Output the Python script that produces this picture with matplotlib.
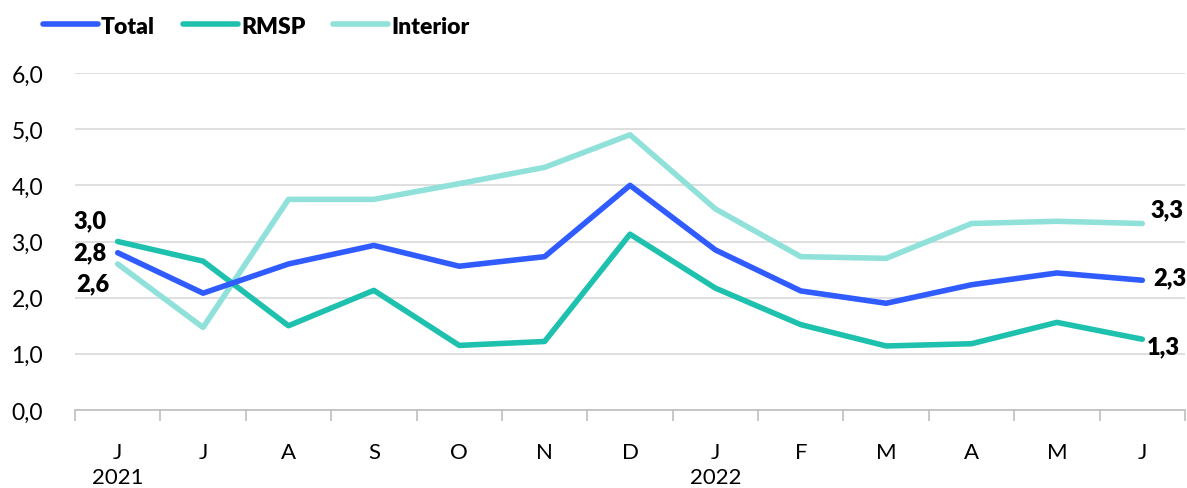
import matplotlib
matplotlib.use("Agg")
from matplotlib import pyplot as plt
from matplotlib.transforms import blended_transform_factory
import numpy as np

plt.rcParams['font.family'] = ['Lato', 'DejaVu Sans']

months = ["J", "J", "A", "S", "O", "N", "D", "J", "F", "M", "A", "M", "J"]
years = {0: "2021", 7: "2022"}

total    = [2.80, 2.08, 2.60, 2.93, 2.56, 2.73, 4.00, 2.85, 2.12, 1.90, 2.23, 2.44, 2.31]
rmsp     = [3.00, 2.65, 1.50, 2.13, 1.15, 1.22, 3.13, 2.17, 1.52, 1.14, 1.18, 1.56, 1.26]
interior = [2.60, 1.47, 3.75, 3.75, 4.03, 4.32, 4.90, 3.58, 2.73, 2.70, 3.32, 3.36, 3.32]

c_total = "#2f5bff"
c_rmsp = "#1dc1ad"
c_int = "#8fe1d9"

fig = plt.figure(figsize=(11.87, 4.89), dpi=100)
ax = fig.add_axes([75/1187, 1-411/489, 1110/1187, (411-74)/489])

x = np.arange(len(months))
l1, = ax.plot(x, total, color=c_total, lw=4, solid_capstyle='round', zorder=4, label="Total")
l2, = ax.plot(x, rmsp, color=c_rmsp, lw=4, solid_capstyle='round', zorder=3, label="RMSP")
l3, = ax.plot(x, interior, color=c_int, lw=4, solid_capstyle='round', zorder=2, label="Interior")

ax.set_xlim(-0.5, len(months) - 0.5)
ax.set_ylim(0, 6)
ax.set_yticks(np.arange(0, 7, 1))
ax.set_yticklabels([("%.1f" % v).replace(".", ",") for v in range(7)])
ax.grid(axis='y', color='#d9d9d9', lw=1.2)
ax.set_axisbelow(True)

for s in ["top", "right", "left"]:
    ax.spines[s].set_visible(False)
ax.spines["bottom"].set_color("#bfbfbf")
ax.spines["bottom"].set_linewidth(1.2)

ax.set_xticks(x)
ax.set_xticklabels(months)
ax.set_xticks(np.arange(-0.5, len(months), 1), minor=True)
ax.tick_params(axis='x', which='major', length=0, pad=23, labelsize=16)
ax.tick_params(axis='x', which='minor', length=8, color='#bfbfbf', width=1.2)
ax.tick_params(axis='y', length=0, pad=23, labelsize=16.5)

trans = blended_transform_factory(ax.transData, ax.transAxes)
for i, y in years.items():
    ax.text(i, -0.2, y, transform=trans, ha='center', va='center', fontsize=16)

def lab(v):
    return ("%.1f" % v).replace(".", ",")

lbl = dict(textcoords='offset points', ha='center', va='center', fontsize=17, fontweight='heavy')
# data labels at the ends
ax.annotate(lab(rmsp[0]), (0, rmsp[0]), xytext=(-20, 15), **lbl)
ax.annotate(lab(total[0]), (0, total[0]), xytext=(-20, 0), **lbl)
ax.annotate(lab(interior[0]), (0, interior[0]), xytext=(-18, -14), **lbl)
n = len(months) - 1
ax.annotate(lab(interior[n]), (n, interior[n]), xytext=(18, 10), **lbl)
ax.annotate(lab(total[n]), (n, total[n]), xytext=(20, 2), **lbl)
ax.annotate(lab(rmsp[n]), (n, rmsp[n]), xytext=(15, -5), **lbl)

leg = fig.legend(handles=[l1, l2, l3], loc='center left', bbox_to_anchor=(22/1187, 1-27/489),
                 ncol=3, frameon=False, handlelength=2.4, handletextpad=0.15,
                 columnspacing=1.2, prop={'size': 16.5, 'weight': 'heavy'})

fig.savefig("out.png", dpi=100)
